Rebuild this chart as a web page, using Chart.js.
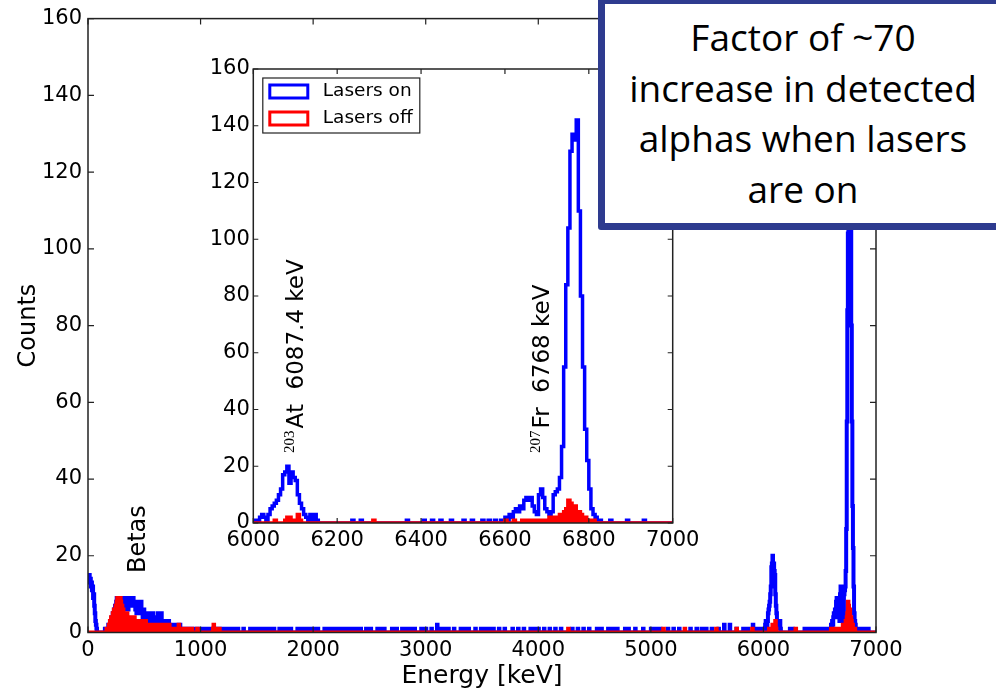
<!DOCTYPE html>
<html>
<head>
<meta charset="utf-8">
<title>Alpha spectrum - lasers on / off</title>
<script src="https://cdn.jsdelivr.net/npm/chart.js@4.4.1/dist/chart.umd.min.js"></script>
<style>
  html, body { margin: 0; padding: 0; background: #fff; }
  #stage { position: relative; width: 996px; height: 691px; overflow: hidden; }
  #main { position: absolute; left: 0; top: 0; }
  #inset { position: absolute; left: 180px; top: 45px; }
  .note {
    position: absolute; left: 598px; top: -3px;
    width: 396px; height: 211px; padding-top: 8px;
    border: 7px solid #2e3b8f; border-radius: 3px;
    background: #fff; color: #000;
    font-family: 'Open Sans', sans-serif; font-size: 37px; line-height: 50.5px;
    text-align: center;
  }
</style>
</head>
<body>
<div id="stage">
  <canvas id="main" width="996" height="691"></canvas>
  <canvas id="inset" width="540" height="520"></canvas>
  <div class="note">Factor of ~70<br>increase in detected<br>alphas when lasers<br>are on</div>
</div>
<script>
// ---- spectrum data, 5 keV bins from 0 to 7000 keV ----
const binWidth = 5;
const nBins = 1400;

// lasers on, counts per bin 0-1195 keV (20 bins per row)
const onLow = [
  15,14,15,13,14,12,13,11,12,9,10,7,5,3,2,1,0,0,0,0,
  0,0,0,0,0,0,0,0,0,0,1,0,1,0,1,1,2,1,2,3,
  3,2,4,3,5,4,6,5,7,6,8,9,9,8,9,7,9,8,9,9,
  9,8,9,7,8,9,6,8,7,9,8,6,7,8,9,7,9,8,9,7,
  9,8,7,8,6,7,5,6,7,8,6,5,7,6,8,5,6,4,5,6,
  4,5,3,4,5,3,4,3,5,4,3,4,2,3,4,5,3,2,3,4,
  3,2,4,3,5,2,3,4,2,3,5,2,3,2,1,2,3,1,2,1,
  2,1,2,3,1,2,1,1,2,1,0,1,2,1,1,0,1,2,1,1,
  1,0,1,2,1,0,1,1,0,1,0,0,1,0,1,0,1,0,0,1,
  0,1,0,0,1,0,1,0,0,0,1,0,0,1,0,0,0,1,0,0,
  0,0,1,0,0,0,0,1,0,0,0,0,1,0,0,0,0,0,1,0,
  0,1,0,0,0,1,0,0,0,0,1,0,0,0,1,0,0,0,0,1
];
// lasers off, counts per bin 0-1195 keV
const offLow = [
  0,0,0,0,0,0,0,0,0,0,0,0,0,0,0,0,0,0,0,0,
  0,0,0,0,0,0,0,0,0,0,0,0,0,1,1,1,1,2,2,3,
  3,4,3,4,5,4,6,5,6,7,7,8,9,8,9,7,8,9,8,7,
  7,6,6,5,5,5,4,5,4,5,4,4,3,4,4,3,4,3,3,4,
  3,3,4,3,2,3,3,2,3,3,2,3,2,3,2,2,3,2,2,3,
  2,2,3,2,2,1,2,2,2,1,2,1,2,2,1,2,2,1,1,2,
  2,1,2,1,2,2,1,1,2,1,1,2,1,1,0,1,2,1,1,0,
  1,1,0,1,2,1,1,0,1,1,0,1,1,0,1,0,0,1,0,1,
  1,2,1,1,0,1,0,0,1,0,0,1,0,0,0,1,0,0,0,0,
  0,0,0,1,1,0,0,0,0,0,0,0,0,0,1,0,0,0,0,0,
  0,0,0,0,0,0,0,0,0,0,0,0,0,0,0,0,0,0,0,0,
  0,0,1,2,1,0,0,0,0,0,0,0,1,1,0,0,0,0,0,0
];

// 203At line, 6000-6155 keV
const onAt  = [1,1,0,2,3,2,1,3,5,6,7,8,10,12,17,18,20,14,18,16,15,10,7,5,3,2,1,3,1,3,1,0];
const offAt = [0,0,0,0,0,0,0,0,0,0,1,0,0,0,0,1,2,2,1,1,0,3,1,0,0,0,0,0,0,0,0,0];

// 207Fr line, 6600-6835 keV
const onFr = [
  2,1,3,2,4,5,4,6,5,8,9,8,9,6,4,3,10,12,9,5,
  4,3,4,10,11,12,16,27,55,84,104,131,137,135,142,110,80,55,33,22,
  12,5,3,2,1,1,0,0
];
const offFr = [
  1,0,0,0,1,0,0,0,1,0,1,0,1,1,0,1,1,0,1,1,
  1,2,1,2,2,1,3,2,4,5,8,7,5,6,4,4,3,2,2,1,
  1,1,1,0,0,0,0,0
];

// isolated bins elsewhere (keV of the bin): single counts and double counts
const onOnes = [1215,1250,1290,1330,1380,1440,1470,1500,1530,1560,1600,1620,1650,1700,
  1740,1770,1800,1860,1900,1920,1950,1975,2000,2040,2100,2130,2160,2200,2230,2260,2290,
  2330,2370,2400,2420,2470,2510,2570,2600,2630,2700,2740,2790,2820,2860,2900,2960,3000,
  3050,3130,3160,3200,3250,3310,3340,3380,3440,3490,3530,3560,3600,3650,3700,3770,3820,
  3870,3930,3970,4000,4050,4100,4150,4200,4300,4350,4400,4450,4520,4560,4620,4660,4700,
  4770,4800,4860,4930,5000,5040,5080,5150,5200,5250,5350,5405,5450,5490,5540,5600,5760,
  5820,5860,5940,5965,6235,6255,6365,6405,6425,6445,6470,6500,6520,6545,6560,6575,6590,
  6850,6890,6930];
const onTwos = [3100,5650,5700,5905];
const offOnes = [4265,5110,5300,5580,5760,5900,6285];
const offTwos = [];

function buildCounts(blocks, ones, twos) {
  const counts = new Array(nBins).fill(0);
  blocks.forEach(([start, values]) => {
    values.forEach((v, i) => { counts[start / binWidth + i] = v; });
  });
  ones.forEach(e => { counts[e / binWidth] = 1; });
  twos.forEach(e => { counts[e / binWidth] = 2; });
  return counts;
}

// one point per bin left edge, closed at the upper edge
function toSteps(counts) {
  const pts = counts.map((c, i) => ({ x: i * binWidth, y: c }));
  pts.push({ x: nBins * binWidth, y: 0 });
  return pts;
}

const lasersOn = toSteps(buildCounts([[0, onLow], [6000, onAt], [6600, onFr]], onOnes, onTwos));
const lasersOff = toSteps(buildCounts([[0, offLow], [6000, offAt], [6600, offFr]], offOnes, offTwos));

const BLUE = '#0000ff';
const RED = '#ff0000';
const FONT = 'DejaVu Sans';

function datasets(lw) {
  return [
    { label: 'Lasers on', data: lasersOn, borderColor: BLUE, borderWidth: lw,
      stepped: true, pointRadius: 0, fill: false, order: 1, clip: 0 },
    { label: 'Lasers off', data: lasersOff, borderColor: RED, backgroundColor: RED, borderWidth: lw,
      stepped: true, pointRadius: 0, fill: 'origin', order: 0, clip: 0 }
  ];
}

// white plot background, black frame and inward ticks on all four sides
const frameTicks = {
  id: 'frameTicks',
  beforeDraw(chart) {
    const { ctx, chartArea: a } = chart;
    ctx.save();
    ctx.fillStyle = '#fff';
    ctx.fillRect(a.left, a.top, a.width, a.height);
    ctx.restore();
  },
  afterDatasetsDraw(chart, args, opts) {
    const { ctx, chartArea: a, scales: { x, y } } = chart;
    const len = opts.tickLength || 6;
    ctx.save();
    ctx.strokeStyle = '#222';
    ctx.lineWidth = 1.5;
    ctx.strokeRect(a.left, a.top, a.width, a.height);
    ctx.lineWidth = 1.2;
    ctx.beginPath();
    x.ticks.forEach(t => {
      const px = x.getPixelForValue(t.value);
      ctx.moveTo(px, a.bottom); ctx.lineTo(px, a.bottom - len);
      ctx.moveTo(px, a.top); ctx.lineTo(px, a.top + len);
    });
    y.ticks.forEach(t => {
      const py = y.getPixelForValue(t.value);
      ctx.moveTo(a.left, py); ctx.lineTo(a.left + len, py);
      ctx.moveTo(a.right, py); ctx.lineTo(a.right - len, py);
    });
    ctx.stroke();
    ctx.restore();
  }
};

// vertical text placed in data coordinates, with optional mass-number prefix
const rotatedLabels = {
  id: 'rotatedLabels',
  afterDatasetsDraw(chart, args, opts) {
    const { ctx, scales: { x, y } } = chart;
    (opts.items || []).forEach(item => {
      ctx.save();
      ctx.translate(x.getPixelForValue(item.x), y.getPixelForValue(item.y));
      ctx.rotate(-Math.PI / 2);
      ctx.fillStyle = '#000';
      ctx.textAlign = 'left';
      ctx.textBaseline = 'middle';
      let start = 0;
      if (item.mass) {
        ctx.font = '15px "Liberation Serif"';
        ctx.fillText(item.mass, 0, -7);
        start = ctx.measureText(item.mass).width + 2;
      }
      ctx.font = item.size + 'px "' + FONT + '"';
      ctx.fillText(item.text, start, 0);
      ctx.restore();
    });
  }
};

// framed legend in the upper left of the plot, open rectangles as keys
const boxLegend = {
  id: 'boxLegend',
  afterDatasetsDraw(chart, args, opts) {
    if (!opts.show) return;
    const { ctx, chartArea: a } = chart;
    const left = a.left + 9.5, top = a.top + 9;
    ctx.save();
    ctx.fillStyle = '#fff';
    ctx.strokeStyle = '#222';
    ctx.lineWidth = 1.2;
    ctx.fillRect(left, top, 157, 55);
    ctx.strokeRect(left, top, 157, 55);
    ctx.font = '18.5px "' + FONT + '"';
    ctx.textBaseline = 'middle';
    chart.data.datasets.forEach((ds, i) => {
      const cy = top + 13.5 + i * 27;
      ctx.strokeStyle = ds.borderColor;
      ctx.lineWidth = 3;
      ctx.strokeRect(left + 7, cy - 6.5, 38, 13);
      ctx.fillStyle = '#000';
      ctx.fillText(ds.label, left + 60, cy);
    });
    ctx.restore();
  }
};

function tickOpts(step, pad) {
  return { stepSize: step, font: { family: FONT, size: 21 }, color: '#000',
           padding: pad, maxRotation: 0, callback: v => String(v) };
}

// full spectrum
new Chart(document.getElementById('main'), {
  type: 'line',
  data: { datasets: datasets(4) },
  plugins: [frameTicks, rotatedLabels],
  options: {
    responsive: false,
    animation: false,
    events: [],
    layout: { padding: { left: 0, top: 18, right: 120, bottom: 0 } },
    plugins: {
      legend: { display: false },
      tooltip: { enabled: false },
      frameTicks: { tickLength: 6 },
      rotatedLabels: { items: [{ text: 'Betas', x: 453, y: 15.5, size: 24 }] }
    },
    scales: {
      x: {
        type: 'linear', min: 0, max: 7000,
        afterFit(s) { s.height = 58.5; },
        grid: { display: false, drawTicks: false },
        border: { display: false },
        ticks: tickOpts(1000, 5),
        title: { display: true, text: 'Energy [keV]', color: '#000',
                 font: { family: FONT, size: 25 }, padding: { top: 0, bottom: 0 } }
      },
      y: {
        type: 'linear', min: 0, max: 160,
        afterFit(s) { s.width = 88; },
        grid: { display: false, drawTicks: false },
        border: { display: false },
        ticks: tickOpts(20, 6),
        title: { display: true, text: 'Counts', color: '#000',
                 font: { family: FONT, size: 24 }, padding: { top: 14, bottom: 0 } }
      }
    }
  }
});

// zoom on the alpha lines
new Chart(document.getElementById('inset'), {
  type: 'line',
  data: { datasets: datasets(3.5) },
  plugins: [frameTicks, rotatedLabels, boxLegend],
  options: {
    responsive: false,
    animation: false,
    events: [],
    layout: { padding: { left: 0, top: 24, right: 47.3, bottom: 0 } },
    plugins: {
      legend: { display: false },
      tooltip: { enabled: false },
      frameTicks: { tickLength: 5 },
      boxLegend: { show: true },
      rotatedLabels: { items: [
        { mass: '203', text: 'At  6087.4 keV', x: 6104, y: 24.7, size: 23 },
        { mass: '207', text: 'Fr  6768 keV', x: 6690, y: 24.7, size: 23 }
      ] }
    },
    scales: {
      x: {
        type: 'linear', min: 6000, max: 7000,
        afterFit(s) { s.height = 42; },
        grid: { display: false, drawTicks: false },
        border: { display: false },
        ticks: tickOpts(200, 4.5)
      },
      y: {
        type: 'linear', min: 0, max: 160,
        afterFit(s) { s.width = 73.3; },
        grid: { display: false, drawTicks: false },
        border: { display: false },
        ticks: tickOpts(20, 3.5)
      }
    }
  }
});
</script>
</body>
</html>
